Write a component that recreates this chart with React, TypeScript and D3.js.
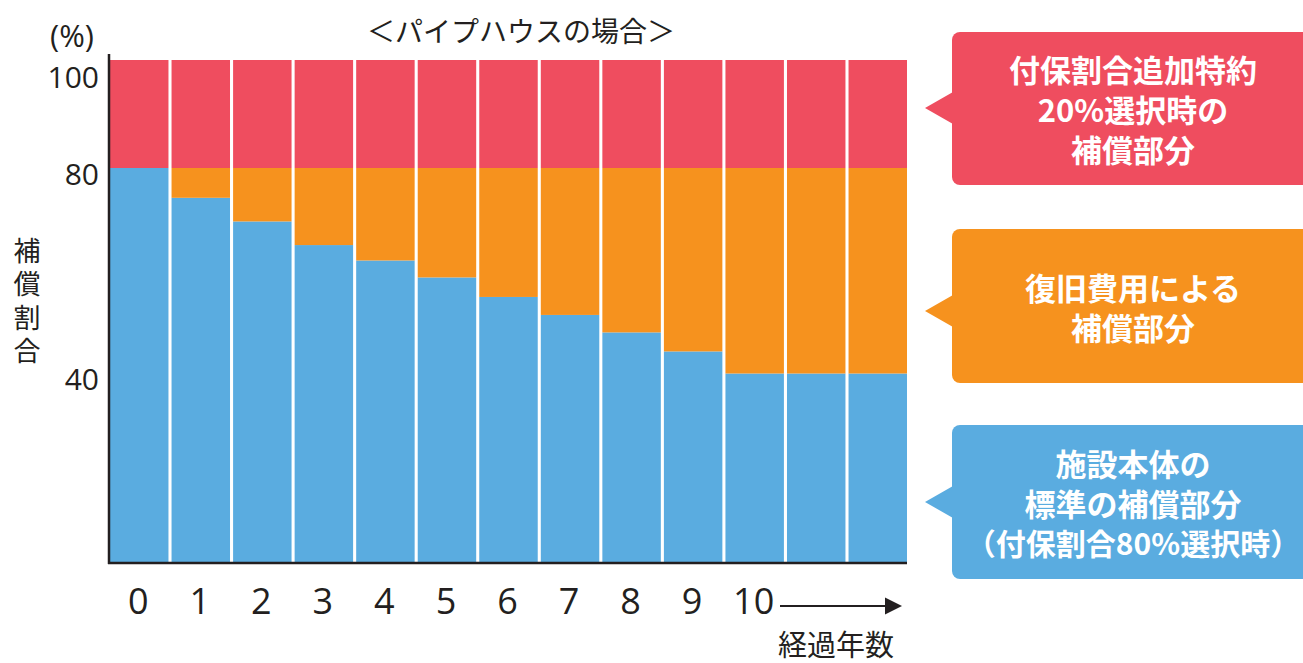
import React, { useEffect, useRef } from "react";
import * as d3 from "d3";

// 経過年数 (0..12, labels only up to 10)
const years = ["0", "1", "2", "3", "4", "5", "6", "7", "8", "9", "10", "11", "12"];
const yearLabels = ["0", "1", "2", "3", "4", "5", "6", "7", "8", "9", "10"];
// 施設本体の標準の補償部分 (%)
const standardPart = [80, 74.2, 69.6, 65, 62, 58.7, 54.9, 51.4, 48, 44.3, 40, 40, 40];
// 復旧費用による補償部分 (%)
const restorationPart = [0, 5.8, 10.4, 15, 18, 21.3, 25.1, 28.6, 32, 35.7, 40, 40, 40];
// 付保割合追加特約20%選択時の補償部分 (%)
const additionalPart = [20, 20, 20, 20, 20, 20, 20, 20, 20, 20, 20, 20, 20];
const yTicks = [40, 80, 100];

const RED = "#ef4d5f";
const ORANGE = "#f6921e";
const BLUE = "#5aace0";
const INK = "#231f20";
const FONT = "'Open Sans', 'Noto Sans CJK JP', sans-serif";
const JP = "'Noto Sans CJK JP', sans-serif";

const callouts = [
  { color: RED, top: 32, bottom: 185, tipY: 108, lines: ["付保割合追加特約", "20%選択時の", "補償部分"] },
  { color: ORANGE, top: 229, bottom: 383, tipY: 311, lines: ["復旧費用による", "補償部分"] },
  { color: BLUE, top: 425, bottom: 579, tipY: 502, lines: ["施設本体の", "標準の補償部分", "（付保割合80%選択時）"] },
];

const App: React.FC = () => {
  const svgRef = useRef<SVGSVGElement | null>(null);

  useEffect(() => {
    document.body.style.margin = "0";
    const width = 1303;
    const height = 663;

    const x = d3.scaleBand<string>().domain(years).range([110, 907]).paddingInner(0.05).paddingOuter(0);
    // schematic, non-uniform vertical scale as in the original figure
    const y = d3.scaleLinear().domain([0, 40, 80, 100]).range([563, 373.5, 168, 60]);

    const svg = d3.select(svgRef.current).attr("width", width).attr("height", height);
    svg.selectAll("*").remove();

    const rows = years.map((yr, i) => ({
      year: yr,
      standard: standardPart[i],
      restoration: restorationPart[i],
      additional: additionalPart[i],
    }));
    const stack = d3.stack<any>().keys(["standard", "restoration", "additional"])(rows);
    const colors = [BLUE, ORANGE, RED];

    svg
      .append("g")
      .selectAll("g")
      .data(stack)
      .enter()
      .append("g")
      .attr("fill", (_, i) => colors[i])
      .selectAll("rect")
      .data((d) => d)
      .enter()
      .append("rect")
      .attr("x", (d) => x(d.data.year)!)
      .attr("width", x.bandwidth())
      .attr("y", (d) => y(d[1]))
      .attr("height", (d) => y(d[0]) - y(d[1]));

    // axes lines
    svg.append("line").attr("x1", 109).attr("x2", 109).attr("y1", 54).attr("y2", 564)
      .attr("stroke", INK).attr("stroke-width", 2.5);
    svg.append("line").attr("x1", 108).attr("x2", 907).attr("y1", 563).attr("y2", 563)
      .attr("stroke", INK).attr("stroke-width", 2.5);

    // y tick labels (top label sits below the axis end)
    svg.append("g").selectAll("text").data(yTicks).enter().append("text")
      .attr("x", 99)
      .attr("y", (d) => y(d) + (d === 100 ? 16 : 5))
      .attr("text-anchor", "end")
      .attr("dominant-baseline", "central")
      .style("font-family", FONT)
      .style("font-size", "30px")
      .style("fill", INK)
      .text((d) => String(d));

    // x tick labels
    svg.append("g").selectAll("text").data(yearLabels).enter().append("text")
      .attr("x", (d) => x(d)! + x.bandwidth() / 2 - 1)
      .attr("y", 614)
      .attr("text-anchor", "middle")
      .style("font-family", FONT)
      .style("font-size", "36px")
      .style("fill", INK)
      .text((d) => d);

    // arrow
    svg.append("line").attr("x1", 780).attr("x2", 888).attr("y1", 606).attr("y2", 606)
      .attr("stroke", INK).attr("stroke-width", 2);
    svg.append("path").attr("d", "M885,597.5 L902,606 L885,614.5 Z").attr("fill", INK);

    svg.append("text").attr("x", 836).attr("y", 656).attr("text-anchor", "middle")
      .style("font-family", JP).style("font-size", "29px").style("fill", INK).text("経過年数");

    // title
    svg.append("text").attr("x", 521).attr("y", 42).attr("text-anchor", "middle")
      .style("font-family", JP).style("font-size", "28px").style("fill", INK)
      .text("＜パイプハウスの場合＞");

    // (%) unit
    svg.append("text").attr("x", 72).attr("y", 47).attr("text-anchor", "middle")
      .style("font-family", FONT).style("font-size", "31px").style("fill", INK).text("(%)");

    // vertical y label
    svg.append("text")
      .attr("x", 27)
      .attr("y", 237)
      .style("writing-mode", "vertical-rl")
      .style("letter-spacing", "6.5px")
      .style("font-family", JP)
      .style("font-size", "27px")
      .style("fill", INK)
      .text("補償割合");

    // callouts
    callouts.forEach((c) => {
      const g = svg.append("g");
      g.append("rect").attr("x", 952).attr("y", c.top).attr("width", 380).attr("height", c.bottom - c.top)
        .attr("rx", 8).attr("fill", c.color);
      g.append("path")
        .attr("d", `M953,${c.tipY - 16} L925,${c.tipY} L953,${c.tipY + 16} Z`)
        .attr("fill", c.color);
      const lh = 40;
      const cy = (c.top + c.bottom) / 2;
      const start = cy - ((c.lines.length - 1) * lh) / 2;
      c.lines.forEach((ln, i) => {
        g.append("text")
          .attr("x", 1133)
          .attr("y", start + i * lh)
          .attr("text-anchor", "middle")
          .attr("dominant-baseline", "central")
          .style("font-family", JP)
          .style("font-size", ln.length > 10 ? "30px" : "31px")
          .style("font-weight", 700)
          .style("fill", "#ffffff")
          .text(ln);
      });
    });
  }, []);

  return <svg ref={svgRef}></svg>;
};

export default App;
